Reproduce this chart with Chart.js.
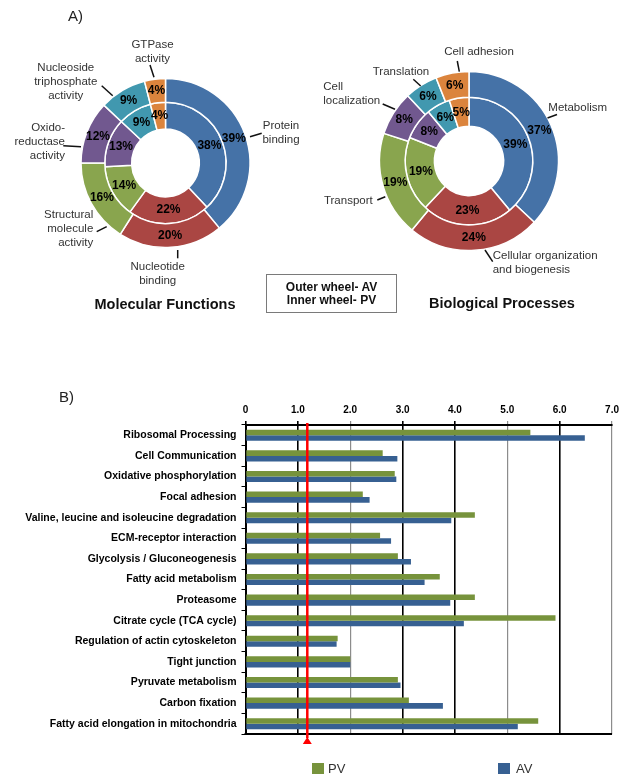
<!DOCTYPE html>
<html>
<head>
<meta charset="utf-8">
<script src="https://cdn.jsdelivr.net/npm/chart.js@4/dist/chart.umd.min.js"></script>
<style>
  html, body { margin: 0; padding: 0; background: #fff; }
  body { width: 624px; height: 779px; position: relative; overflow: hidden;
         font-family: "Liberation Sans", Arial, sans-serif; }
  .abs { position: absolute; }
  canvas { display: block; }
  .panel { font-size: 15px; color: #222; line-height: 18px; }
  .title { font-size: 14.5px; font-weight: bold; color: #111; line-height: 18px; text-align: center; width: 200px; }
  .key { border: 1px solid #7a7a7a; box-sizing: border-box; text-align: center;
         font-size: 12px; font-weight: bold; color: #111; line-height: 13px; padding-top: 6px; }
  .sw { width: 12px; height: 11px; }
  .lg { font-size: 13px; color: #333; line-height: 14px; }
</style>
</head>
<body>
<div class="abs" style="left:0;top:0;"><canvas id="mf" width="312" height="320"></canvas></div>
<div class="abs" style="left:312px;top:0;"><canvas id="bp" width="312" height="320"></canvas></div>
<div class="abs" style="left:0;top:380px;"><canvas id="kegg" width="624" height="399"></canvas></div>

<div class="abs panel" style="left:68px;top:7px;">A)</div>
<div class="abs title" style="left:65px;top:295px;">Molecular Functions</div>
<div class="abs title" style="left:402px;top:294px;">Biological Processes</div>
<div class="abs key" style="left:266px;top:274px;width:131px;height:39px;">Outer wheel- AV<br>Inner wheel- PV</div>
<div class="abs panel" style="left:59px;top:388px;">B)</div>

<div class="abs sw" style="left:312px;top:763px;background:#77933C;"></div>
<div class="abs lg" style="left:328px;top:762px;">PV</div>
<div class="abs sw" style="left:498px;top:763px;background:#376092;"></div>
<div class="abs lg" style="left:516px;top:762px;">AV</div>

<script>
// ---- GO category shares (percent), outer ring = AV, inner ring = PV ----
const mfCategories = [['Protein', 'binding'], ['Nucleotide', 'binding'], ['Structural', 'molecule', 'activity'],
                      ['Oxido-', 'reductase', 'activity'], ['Nucleoside', 'triphosphate', 'activity'], ['GTPase', 'activity']];
const mfAV = [39, 20, 16, 12, 9, 4];
const mfPV = [38, 22, 14, 13, 9, 4];

const bpCategories = [['Metabolism'], ['Cellular organization', 'and biogenesis'], ['Transport'],
                      ['Cell', 'localization'], ['Translation'], ['Cell adhesion']];
const bpAV = [37, 24, 19, 8, 6, 6];
const bpPV = [39, 23, 19, 8, 6, 5];

// ---- KEGG pathway scores ----
const pathways = ['Ribosomal Processing', 'Cell Communication', 'Oxidative phosphorylation', 'Focal adhesion',
  'Valine, leucine and isoleucine degradation', 'ECM-receptor interaction', 'Glycolysis / Gluconeogenesis',
  'Fatty acid metabolism', 'Proteasome', 'Citrate cycle (TCA cycle)', 'Regulation of actin cytoskeleton',
  'Tight junction', 'Pyruvate metabolism', 'Carbon fixation', 'Fatty acid elongation in mitochondria'];
const pvScores = [5.44, 2.62, 2.85, 2.24, 4.38, 2.57, 2.91, 3.71, 4.38, 5.92, 1.76, 2.00, 2.91, 3.12, 5.59];
const avScores = [6.48, 2.90, 2.88, 2.37, 3.93, 2.78, 3.16, 3.42, 3.91, 4.17, 1.74, 2.00, 2.96, 3.77, 5.20];
const xTickLabels = ['0', '1.0', '2.0', '3.0', '4.0', '5.0', '6.0', '7.0'];
const cutoff = 1.18;

// ---- styling ----
const FONT = '"Liberation Sans", Arial, sans-serif';
const sliceColors = ['#4572A7', '#AA4643', '#89A54E', '#71588F', '#4198AF', '#DB843D'];

// Label placement around each wheel, as offsets from the wheel centre:
// text anchor (x, y of first line), alignment, and leader line [x1, y1, x2, y2].
const mfLabelLayout = [
  { x: 115.5, y: -37,    align: 'center', lead: [84.5, -26.3, 96.2, -29.7] },
  { x: -7.8,  y: 103.7,  align: 'center', lead: [12.2, 87, 12.2, 95.3] },
  { x: -72.2, y: 52,     align: 'right',  lead: [-58.8, 63.7, -68.8, 68.7] },
  { x: -100.5, y: -35.3, align: 'right',  lead: [-84.5, -16.3, -102.2, -17.3] },
  { x: -99.7, y: -95.3,  align: 'center', lead: [-63.8, -77.3, -52.8, -67.3] },
  { x: -13,   y: -118.5, align: 'center', lead: [-15.5, -98, -11.5, -85.7] }
];
const bpLabelLayout = [
  { x: 79.3,   y: -52.7, align: 'left',   lead: [78.5, -43, 88, -46.5] },
  { x: 23.7,   y: 95,    align: 'left',   lead: [16, 89, 23.7, 100.7] },
  { x: -96.3,  y: 40,    align: 'right',  lead: [-91.7, 39, -83.7, 35.7] },
  { x: -145.7, y: -73.7, align: 'left',   lead: [-86.3, -57, -74, -51.7] },
  { x: -68,    y: -88.7, align: 'center', lead: [-55.7, -81.7, -48.3, -75] },
  { x: 10,     y: -109.3, align: 'center', lead: [-11.7, -100, -9.7, -89.3] }
];

// Draws the percentage on every slice and the category names with leader lines.
function makeWheelLabels(layout) {
  return {
    id: 'wheelLabels',
    afterDatasetsDraw(chart) {
      const ctx = chart.ctx;
      const first = chart.getDatasetMeta(0).data[0];
      const cx = first.x, cy = first.y;
      ctx.save();
      ctx.font = 'bold 12px ' + FONT;
      ctx.fillStyle = '#000';
      ctx.textAlign = 'center';
      ctx.textBaseline = 'middle';
      chart.data.datasets.forEach((ds, di) => {
        chart.getDatasetMeta(di).data.forEach((arc, i) => {
          const p = arc.getCenterPoint();
          ctx.fillText(ds.data[i] + '%', p.x, p.y);
        });
      });
      ctx.strokeStyle = '#111';
      ctx.lineWidth = 1.5;
      ctx.font = '11.5px ' + FONT;
      ctx.fillStyle = '#333';
      layout.forEach((pos, i) => {
        const [x1, y1, x2, y2] = pos.lead;
        ctx.beginPath();
        ctx.moveTo(cx + x1, cy + y1);
        ctx.lineTo(cx + x2, cy + y2);
        ctx.stroke();
        ctx.textAlign = pos.align;
        chart.data.labels[i].forEach((line, k) => ctx.fillText(line, cx + pos.x, cy + pos.y + k * 14));
      });
      ctx.restore();
    }
  };
}

function makeWheel(id, labels, av, pv, radius, hole, weights, padding, layout) {
  return new Chart(document.getElementById(id), {
    type: 'doughnut',
    data: {
      labels: labels,
      datasets: [
        { label: 'AV', data: av, backgroundColor: sliceColors, borderColor: '#fff', borderWidth: 1.5, weight: weights[0] },
        { label: 'PV', data: pv, backgroundColor: sliceColors, borderColor: '#fff', borderWidth: 1.5, weight: weights[1] }
      ]
    },
    options: {
      responsive: false,
      animation: false,
      events: [],
      radius: radius,
      cutout: hole,
      layout: { padding: padding },
      plugins: { legend: { display: false }, tooltip: { enabled: false } }
    },
    plugins: [makeWheelLabels(layout)]
  });
}

makeWheel('mf', mfCategories, mfAV, mfPV, 84.5, 42, [20, 22.5],
          { left: 60, right: 41, top: 40, bottom: 34 }, mfLabelLayout);
makeWheel('bp', bpCategories, bpAV, bpPV, 89.5, 45, [20.8, 23.7],
          { left: 40, right: 38, top: 40, bottom: 38 }, bpLabelLayout);

// Threshold marker and the closing line under the plot.
const cutoffLine = {
  id: 'cutoffLine',
  afterDraw(chart) {
    const { ctx, chartArea: a, scales: { x } } = chart;
    ctx.save();
    ctx.strokeStyle = '#000';
    ctx.lineWidth = 2;
    ctx.beginPath();
    ctx.moveTo(a.left - 1, a.bottom);
    ctx.lineTo(a.right, a.bottom);
    ctx.stroke();
    const px = x.getPixelForValue(cutoff);
    ctx.strokeStyle = '#FF0000';
    ctx.lineWidth = 2.5;
    ctx.beginPath();
    ctx.moveTo(px, a.top - 2);
    ctx.lineTo(px, a.bottom + 4);
    ctx.stroke();
    ctx.fillStyle = '#FF0000';
    ctx.beginPath();
    ctx.moveTo(px, a.bottom + 3);
    ctx.lineTo(px + 4.5, a.bottom + 10);
    ctx.lineTo(px - 4.5, a.bottom + 10);
    ctx.closePath();
    ctx.fill();
    ctx.restore();
  }
};

const darkGrid = [true, true, false, true, true, false, true, false];

new Chart(document.getElementById('kegg'), {
  type: 'bar',
  data: {
    labels: pathways,
    datasets: [
      { label: 'PV', data: pvScores, backgroundColor: '#77933C', categoryPercentage: 0.54, barPercentage: 1 },
      { label: 'AV', data: avScores, backgroundColor: '#376092', categoryPercentage: 0.54, barPercentage: 1 }
    ]
  },
  options: {
    indexAxis: 'y',
    responsive: false,
    animation: false,
    events: [],
    layout: { padding: { left: 0, right: 7.5, top: 0, bottom: 45 } },
    scales: {
      x: {
        position: 'top',
        min: 0,
        max: 7,
        ticks: {
          stepSize: 1,
          autoSkip: false,
          maxRotation: 0,
          padding: 5,
          color: '#000',
          font: { family: FONT, size: 10, weight: 'bold' },
          callback: (v, i) => xTickLabels[i]
        },
        grid: {
          tickLength: 4,
          color: (c) => (c.tick && !darkGrid[Math.round(c.tick.value)]) ? '#8c8c8c' : '#000',
          lineWidth: (c) => (c.tick && !darkGrid[Math.round(c.tick.value)]) ? 1.2 : 1.6
        },
        border: { color: '#000', width: 2 },
        afterFit(s) { s.height = 45; }
      },
      y: {
        ticks: {
          autoSkip: false,
          padding: 5,
          color: '#000',
          font: { family: FONT, size: 10.5, weight: 'bold' }
        },
        grid: { drawOnChartArea: false, color: '#000', tickLength: 4, lineWidth: 1 },
        border: { color: '#000', width: 2 },
        afterFit(s) { s.width = 245.5; }
      }
    },
    plugins: { legend: { display: false }, tooltip: { enabled: false } }
  },
  plugins: [cutoffLine]
});
</script>
</body>
</html>
